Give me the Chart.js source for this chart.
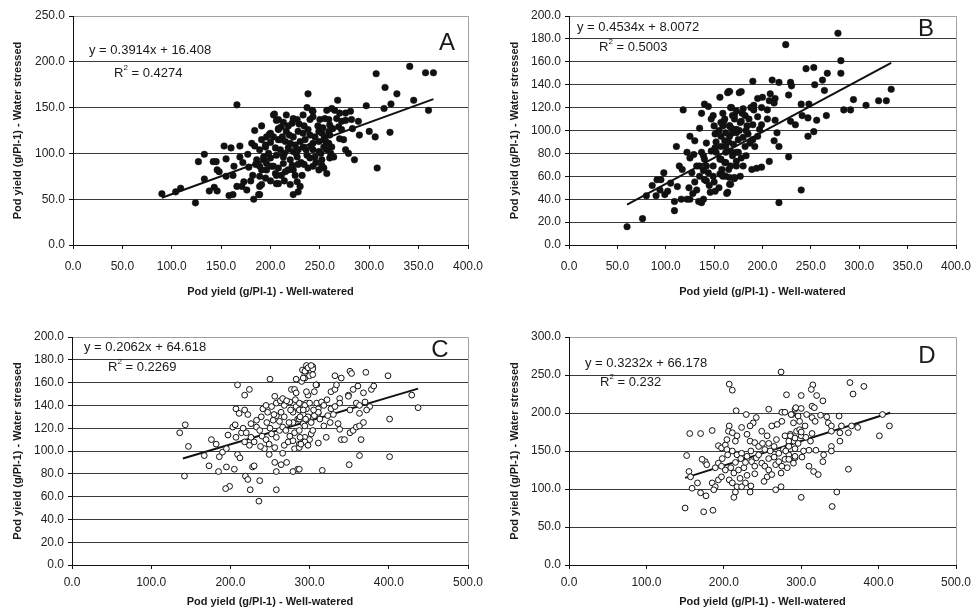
<!DOCTYPE html>
<html>
<head>
<meta charset="utf-8">
<script src="https://cdn.jsdelivr.net/npm/chart.js@4.4.1/dist/chart.umd.min.js"></script>
<style>
  html, body { margin: 0; padding: 0; background: #fff; }
  #wrap { position: relative; width: 975px; height: 613px; overflow: hidden; }
  canvas { position: absolute; }
</style>
</head>
<body>
<div id="wrap">
  <canvas id="chartA" width="487" height="310" style="left:0;top:0"></canvas>
  <canvas id="chartB" width="488" height="310" style="left:487px;top:0"></canvas>
  <canvas id="chartC" width="487" height="303" style="left:0;top:310px"></canvas>
  <canvas id="chartD" width="488" height="303" style="left:487px;top:310px"></canvas>
</div>
<script>
// axis ticks [min, max, step]
const xTicksAB = [0, 400, 50];
const xTicksCD = [0, 500, 100];
const yTicksA = [0, 250, 50];
const yTicksB = [0, 200, 20];
const yTicksC = [0, 200, 20];
const yTicksD = [0, 300, 50];

const xTitle = 'Pod yield (g/Pl-1) - Well-watered';
const yTitle = 'Pod yield (g/Pl-1) - Water stressed';

// trend lines: slope, intercept, x range, R2
const trendA = [0.3914, 16.408, 90, 365, '0.4274'];
const trendB = [0.4534, 8.0072, 60, 333, '0.5003'];
const trendC = [0.2062, 64.618, 140, 437, '0.2269'];
const trendD = [0.3232, 66.178, 150, 415, '0.232'];

// [well-watered, water stressed]
const pointsA = [[90,56],[104,58],[109,62],[124,46],[127,91],[133,99],[133,72],[138,59],[142,91],[145,91],[143,63],[146,59],[146,82],[148,80],[153,108],[155,94],[155,75],[158,54],[162,55],[160,106],[163,86],[162,76],[166,153],[169,108],[166,64],[171,64],[173,69],[169,96],[177,99],[181,111],[184,108],[184,125],[191,130],[189,104],[186,93],[182,76],[189,64],[188,55],[183,50],[191,115],[195,109],[199,121],[203,142],[193,93],[196,82],[191,82],[201,86],[206,76],[208,67],[206,136],[208,127],[208,115],[189,75],
  [307,187],[316,172],[328,165],[341,195],[357,188],[365,188],[345,158],[322,154],[315,149],[297,152],[360,147],[268,158],[238,165],[237,150],[242,147],[243,146],[257,147],[262,149],[265,147],[270,144],[276,144],[281,146],[204,143],[216,142],[223,138],[208,137],[211,129],[222,133],[227,137],[233,142],[240,137],[243,140],[250,137],[255,138],[259,137],[260,131],[267,138],[272,135],[276,136],[282,137],[289,135],[269,129],[272,126],[283,127],[290,120],[300,124],[306,118],[321,123],[270,116],[274,115],[200,122],[208,126],[212,118],[216,124],[223,118],[228,124],[233,122],[238,126],[240,120],[245,118],[249,124],[252,122],[255,118],[259,124],[260,120],[210,115],[215,113],[220,111],[225,109],[230,113],[235,115],[243,111],[249,113],[254,115],[259,111],[195,107],[205,106],[210,104],[218,106],[223,102],[228,104],[233,107],[243,104],[249,102],[254,107],[257,104],[262,107],[276,104],[279,100],[193,96],[200,95],[206,98],[213,96],[220,93],[227,96],[237,98],[240,95],[245,96],[252,93],[260,95],[264,96],[285,93],[189,86],[196,89],[203,86],[208,84],[213,89],[218,82],[222,87],[223,82],[238,84],[243,86],[249,82],[254,84],[308,84],[195,73],[205,78],[211,76],[215,80],[225,76],[232,76],[252,87],[257,78],[191,66],[206,67],[220,66],[227,69],[230,64],[228,58],[223,55],[189,55],
  [198,100],[203,118],[214,100],[219,120],[226,100],[231,90],[236,104],[241,108],[246,90],[251,100],[256,113],[261,100],[248,130],[253,128],[263,127],[234,130],[229,132],[218,130],[213,134],[200,112],[196,118],[185,88],[178,85],[172,90],[180,70],[176,60],[200,70],[214,70],[234,88],[228,88]];

const pointsB = [[60,16],[76,23],[80,43],[86,52],[90,43],[91,57],[95,57],[98,63],[94,48],[99,44],[102,47],[105,54],[109,30],[109,38],[111,86],[112,51],[114,69],[117,66],[118,118],[116,40],[122,40],[125,40],[122,81],[125,76],[124,50],[127,63],[130,91],[132,48],[134,38],[137,37],[139,40],[132,69],[135,102],[137,81],[139,78],[137,115],[140,123],[142,56],[142,89],[144,121],[147,110],[149,113],[151,47],[149,69],[151,97],[156,129],[157,107],[159,115],[142,69],[144,63],[152,81],[156,75],[162,98],[166,104],[164,133],[167,120],[166,134],[176,133],[171,113],[162,86],[167,82],[162,60],[171,59],[164,46],[167,53],[173,69],[173,81],[175,92],[169,98],[173,101],[157,95],[161,91],[157,75],[161,72],[147,82],[151,85],[135,69],[139,65],[129,79],[125,95],[135,60],[140,57],[149,60],[156,62],[159,60],[146,46],[140,75],
  [278,185],[224,175],[281,161],[245,154],[253,155],[267,150],[262,144],[281,150],[254,140],[264,135],[190,143],[210,144],[217,142],[229,142],[230,139],[227,131],[165,134],[178,134],[195,128],[200,129],[208,132],[213,128],[207,126],[212,124],[191,122],[191,118],[168,120],[180,119],[179,115],[240,123],[248,123],[241,113],[247,111],[256,109],[266,113],[284,118],[291,118],[294,127],[307,122],[320,126],[328,126],[333,136],[205,110],[213,109],[199,105],[229,108],[234,105],[247,95],[253,99],[215,98],[212,91],[217,86],[227,77],[207,73],[189,66],[194,67],[199,68],[240,48],[217,37],[163,45],[166,53],[159,61],[180,69],[177,60],[171,58],[166,59],[169,78],[175,81],[162,81],[157,86],[166,95],[173,98],[180,94],[185,97],[190,92],[195,95],[192,86],[166,104],[171,110],[177,107],[182,113],[184,104],[161,110],[159,104],[169,113],[173,117],[162,72],[167,69],[173,73],[182,86],[187,89],[197,101],
  [152,90],[155,100],[160,108],[165,90],[168,102],[170,88],[176,100],[178,108],[183,100],[186,110],[188,120],[178,76],[165,66],[158,66],[150,55],[145,52],[130,55],[128,45],[155,50],[183,78],[195,112],[199,120],[205,118],[190,105],[150,104]];

const pointsC = [[136,116],[143,123],[147,104],[142,78],[167,96],[176,110],[182,106],[186,95],[190,99],[195,102],[173,87],[185,82],[195,86],[197,114],[203,121],[206,123],[207,112],[214,116],[199,69],[194,67],[205,84],[209,97],[212,94],[207,137],[211,133],[218,136],[222,132],[209,158],[218,149],[224,154],[219,78],[222,75],[225,66],[228,86],[230,87],[236,56],[237,74],[216,120],[220,116],[226,112],[218,108],[224,105],[230,108],[226,124],[233,121],[237,118],[233,127],[239,130],[241,137],[245,140],[247,134],[252,139],[256,148],[250,163],[240,113],[245,110],[249,106],[243,102],[249,97],[256,103],[258,112],[262,118],[266,121],[254,127],[258,131],[264,134],[268,130],[258,142],[263,144],[268,140],[275,143],[266,146],[271,144],[256,90],[258,82],[258,66],[266,98],[268,105],[273,108],[264,88],[271,90],[277,154],[281,154],[279,134],[283,139],[287,136],[292,132],[296,137],[290,141],[296,142],[283,151],[279,125],[285,128],[292,124],[300,127],[281,116],[287,118],[294,112],[302,115],[279,109],[287,106],[292,108],[300,110],[281,102],[287,103],[279,82],[285,84],[283,163],[290,161],[294,167],[296,175],[291,171],[302,170],[304,174],[294,164],[300,166],[309,158],[298,149],[306,152],[309,142],[311,133],[304,130],
  [294,170],[298,173],[304,172],[292,164],[304,167],[302,175],[332,166],[340,164],[351,170],[353,168],[371,169],[399,166],[308,158],[296,152],[327,152],[332,154],[334,158],[338,146],[349,149],[355,154],[361,157],[368,151],[378,154],[381,157],[287,142],[294,140],[300,142],[311,137],[315,143],[318,140],[306,131],[311,134],[292,136],[298,130],[302,125],[287,128],[294,122],[323,131],[327,137],[332,139],[338,142],[349,148],[359,142],[363,140],[370,143],[376,139],[351,136],[363,133],[372,136],[336,124],[338,119],[340,110],[344,110],[351,116],[355,118],[359,121],[363,122],[368,125],[365,110],[304,118],[294,108],[298,105],[289,106],[311,107],[321,112],[429,149],[437,138],[401,128],[363,96],[401,95],[350,88],[316,83],[287,84],
  [250,120],[255,132],[262,126],[270,118],[274,125],[276,136],[282,145],[288,130],[295,128],[305,136],[313,128],[318,122],[322,145],[326,125],[330,132],[246,125],[238,104],[252,115],[275,113],[288,112]];

const pointsD = [[274,254],[207,238],[211,230],[281,224],[216,203],[229,198],[258,205],[275,201],[279,201],[288,198],[292,205],[242,194],[238,187],[234,183],[207,183],[206,176],[217,170],[215,163],[223,181],[230,172],[234,163],[240,161],[249,176],[256,170],[262,183],[269,185],[275,189],[279,170],[286,172],[290,167],[156,173],[170,173],[185,177],[152,144],[193,157],[197,154],[202,158],[204,152],[211,150],[217,145],[223,147],[230,143],[193,134],[189,128],[197,130],[176,136],[178,132],[172,139],[155,123],[157,116],[166,108],[159,101],[170,95],[177,91],[185,108],[189,103],[187,99],[193,112],[197,116],[202,125],[209,128],[213,121],[219,125],[226,128],[207,112],[211,108],[217,103],[215,96],[213,89],[221,114],[228,108],[223,103],[234,96],[235,104],[236,136],[242,141],[249,134],[240,130],[253,130],[258,125],[256,116],[262,119],[267,132],[271,136],[275,130],[274,121],[279,139],[245,156],[253,152],[260,150],[265,156],[271,147],[277,152],[284,158],[290,163],[292,141],[290,134],[267,99],[274,103],[150,75],[174,70],[186,72],[204,165],[211,174],
  [363,240],[381,235],[367,225],[315,237],[313,231],[320,223],[328,216],[300,223],[293,207],[300,206],[314,209],[317,207],[287,198],[296,196],[307,198],[314,194],[325,197],[333,195],[349,196],[290,187],[298,189],[305,183],[318,189],[335,187],[339,183],[294,176],[298,178],[286,170],[292,167],[300,170],[314,173],[312,163],[339,176],[350,174],[352,183],[361,174],[365,183],[373,181],[405,198],[414,183],[401,170],[350,163],[339,156],[339,150],[329,145],[319,151],[310,151],[303,150],[292,153],[284,145],[292,143],[301,142],[284,139],[328,136],[310,130],[316,123],[322,119],[361,126],[346,96],[300,89],[340,77],[284,163],[284,156],
  [198,140],[205,145],[215,135],[222,140],[228,135],[235,150],[245,145],[250,160],[258,140],[265,142],[268,165],[280,150],[296,160],[300,175],[306,168],[258,160],[240,120],[230,118],[252,110],[282,128]];

const FONT = 'Arial, "Liberation Sans", sans-serif';

const framePlugin = {
  id: 'frame',
  beforeDatasetsDraw(chart) {
    const { ctx, chartArea: a } = chart;
    ctx.save();
    ctx.strokeStyle = '#a0a0a0';
    ctx.lineWidth = 1;
    ctx.beginPath();
    ctx.moveTo(a.left + 1, a.top + 0.5);
    ctx.lineTo(a.right + 0.5, a.top + 0.5);
    ctx.lineTo(a.right + 0.5, a.bottom);
    ctx.stroke();
    ctx.restore();
  }
};

const notePlugin = {
  id: 'note',
  afterDraw(chart, args, o) {
    const ctx = chart.ctx;
    ctx.save();
    ctx.fillStyle = '#1a1a1a';
    ctx.textBaseline = 'middle';
    ctx.textAlign = 'left';
    ctx.font = '13px ' + FONT;
    ctx.fillText(o.eq, o.eqX, o.eqY);
    ctx.fillText('R', o.rX, o.rY);
    let w = ctx.measureText('R').width;
    ctx.font = '8px ' + FONT;
    ctx.fillText('2', o.rX + w, o.rY - 5);
    w += ctx.measureText('2').width;
    ctx.font = '13px ' + FONT;
    ctx.fillText(' = ' + o.r2, o.rX + w, o.rY);
    ctx.font = '24px ' + FONT;
    ctx.textAlign = 'center';
    ctx.fillText(o.letter, o.lX, o.lY);
    ctx.restore();
  }
};

function makePanel(id, pts, trend, xt, yt, lay, note, filled) {
  const [m, b, x0, x1, r2] = trend;
  new Chart(document.getElementById(id), {
    type: 'scatter',
    data: {
      datasets: [{
        data: pts.map(p => ({ x: p[0], y: p[1] })),
        pointRadius: filled ? 3.3 : 2.9,
        pointBackgroundColor: filled ? '#111' : '#fff',
        pointBorderColor: '#111',
        pointBorderWidth: filled ? 0.5 : 1
      }, {
        type: 'line',
        data: [{ x: x0, y: m * x0 + b }, { x: x1, y: m * x1 + b }],
        borderColor: '#111',
        borderWidth: 2,
        pointRadius: 0,
        fill: false
      }]
    },
    options: {
      responsive: false,
      animation: false,
      layout: { padding: { left: 0, right: lay.right, top: lay.top, bottom: 0 } },
      plugins: {
        legend: { display: false },
        tooltip: { enabled: false },
        note: Object.assign({ r2: r2 }, note)
      },
      scales: {
        x: {
          type: 'linear', min: xt[0], max: xt[1],
          ticks: { stepSize: xt[2], autoSkip: false, maxRotation: 0, padding: lay.xPad, color: '#222',
                   font: { family: FONT, size: 12 }, callback: v => v.toFixed(1) },
          grid: { drawOnChartArea: false, drawTicks: true, tickLength: 4, tickColor: '#111' },
          border: { color: '#111', width: 1 },
          title: { display: true, text: xTitle, color: '#1a1a1a', padding: { top: 0, bottom: lay.xTitlePad },
                   font: { family: FONT, size: 11, weight: 'bold' } },
          afterFit(s) { s.height = lay.xH; s.paddingLeft = 0; s.paddingRight = 0; }
        },
        y: {
          type: 'linear', min: yt[0], max: yt[1],
          ticks: { stepSize: yt[2], autoSkip: false, padding: 4, color: '#222',
                   font: { family: FONT, size: 12 }, callback: v => v.toFixed(1) },
          grid: { color: '#3a3a3a', lineWidth: 1, drawTicks: true, tickLength: 4, tickColor: '#111' },
          border: { color: '#111', width: 1 },
          title: { display: true, text: yTitle, color: '#1a1a1a', padding: { top: lay.yTitlePad, bottom: 0 },
                   font: { family: FONT, size: 11, weight: 'bold' } },
          afterFit(s) { s.width = lay.yW; s.paddingTop = 0; s.paddingBottom = 0; }
        }
      }
    },
    plugins: [framePlugin, notePlugin]
  });
}

makePanel('chartA', pointsA, trendA, xTicksAB, yTicksA,
  { right: 19, top: 16, xH: 65, yW: 73, xPad: 10, xTitlePad: 11, yTitlePad: 11 },
  { eq: 'y = 0.3914x + 16.408', eqX: 89, eqY: 50, rX: 114, rY: 73, letter: 'A', lX: 447, lY: 43 }, true);

makePanel('chartB', pointsB, trendB, xTicksAB, yTicksB,
  { right: 19, top: 16, xH: 65, yW: 82, xPad: 10, xTitlePad: 11, yTitlePad: 21 },
  { eq: 'y = 0.4534x + 8.0072', eqX: 90, eqY: 27, rX: 112, rY: 47, letter: 'B', lX: 439, lY: 29 }, true);

makePanel('chartC', pointsC, trendC, xTicksCD, yTicksC,
  { right: 19, top: 27, xH: 48, yW: 72, xPad: 6, xTitlePad: 4, yTitlePad: 11 },
  { eq: 'y = 0.2062x + 64.618', eqX: 84, eqY: 37, rX: 108, rY: 57, letter: 'C', lX: 440, lY: 40 }, false);

makePanel('chartD', pointsD, trendD, xTicksCD, yTicksD,
  { right: 19, top: 27, xH: 48, yW: 82, xPad: 6, xTitlePad: 4, yTitlePad: 21 },
  { eq: 'y = 0.3232x + 66.178', eqX: 98, eqY: 53, rX: 113, rY: 72, letter: 'D', lX: 440, lY: 46 }, false);
</script>
</body>
</html>
